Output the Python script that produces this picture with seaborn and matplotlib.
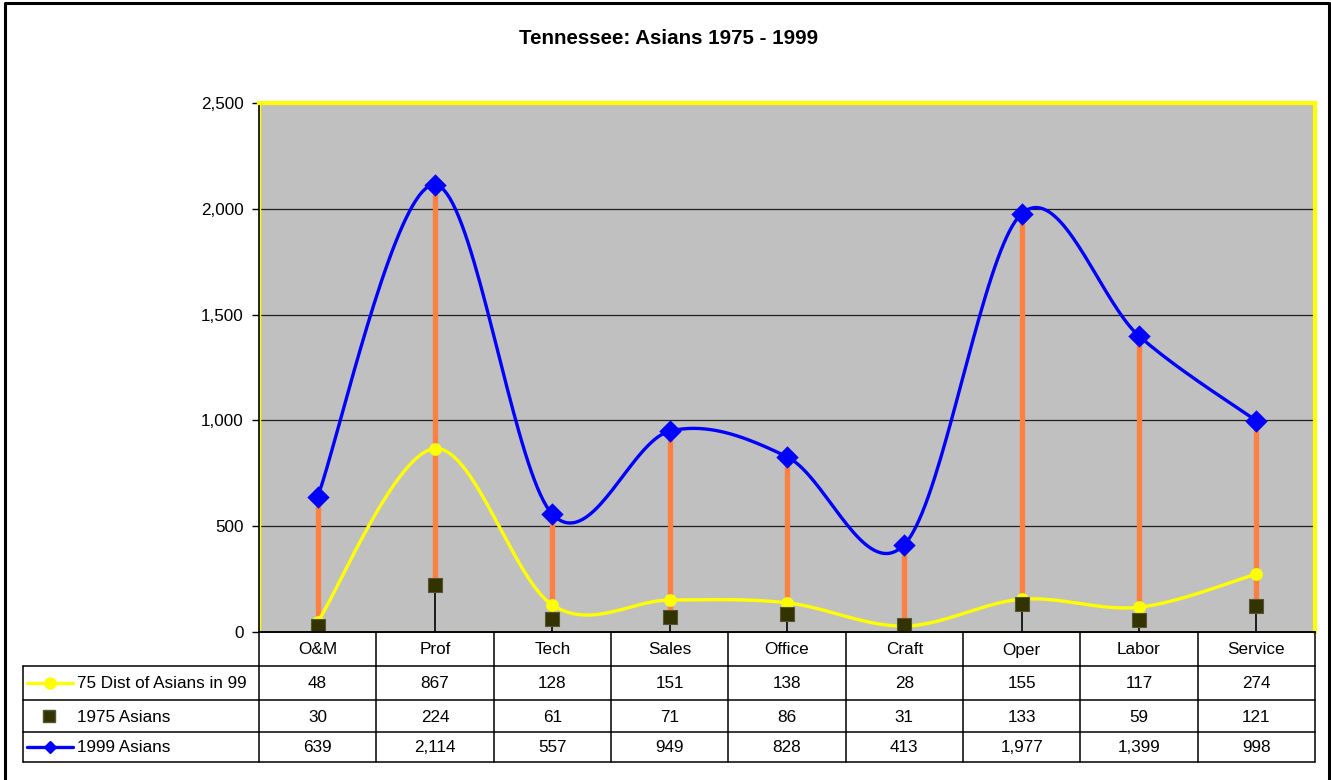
import numpy as np
import pandas as pd
import matplotlib
matplotlib.use("Agg")
import matplotlib.pyplot as plt
import seaborn as sns

# ============= DATA =============
categories = ['O&M', 'Prof', 'Tech', 'Sales', 'Office', 'Craft', 'Oper', 'Labor', 'Service']
dist_75_in_99 = [48, 867, 128, 151, 138, 28, 155, 117, 274]
asians_1975 = [30, 224, 61, 71, 86, 31, 133, 59, 121]
asians_1999 = [639, 2114, 557, 949, 828, 413, 1977, 1399, 998]
series_names = ['75 Dist of Asians in 99', '1975 Asians', '1999 Asians']
y_ticks = [0, 500, 1000, 1500, 2000, 2500]

W, H = 1331, 780
PL, PR, PT, PB = 259, 1315, 103, 632   # plot area in pixels
TL = 23                                  # table left edge
ROWS = [632, 666, 700, 732, 762]         # table row boundaries
FS = 12.3

GRAY = '#C0C0C0'
YELLOW = '#FFFF00'
BLUE = '#0000FF'
ORANGE = '#FF8040'
OLIVE = '#333300'


def excel_smooth(xs, ys, steps=40):
    # bezier smoothing like Excel's "smoothed line" option
    p = np.column_stack([xs, ys]).astype(float)
    p = np.vstack([p[0], p, p[-1]])
    out = []
    for i in range(1, len(p) - 2):
        p0, p1, p2, p3 = p[i - 1], p[i], p[i + 1], p[i + 2]
        c1 = p1 + (p2 - p0) / 6.0
        c2 = p2 - (p3 - p1) / 6.0
        t = np.linspace(0, 1, steps)[:, None]
        seg = ((1 - t) ** 3) * p1 + 3 * ((1 - t) ** 2) * t * c1 + 3 * (1 - t) * t ** 2 * c2 + t ** 3 * p2
        out.append(seg if i == 1 else seg[1:])
    seg = np.vstack(out)
    return seg[:, 0], seg[:, 1]


sns.set_theme(style='white')
plt.rcParams['font.family'] = ['Liberation Sans', 'DejaVu Sans']
plt.rcParams['text.color'] = 'black'
plt.rcParams['ytick.color'] = 'black'
plt.rcParams['ytick.labelcolor'] = 'black'

fig = plt.figure(figsize=(W / 100, H / 100), dpi=100)
fig.patch.set_facecolor('white')

ax = fig.add_axes([PL / W, (H - PB) / H, (PR - PL) / W, (PB - PT) / H])
ax.set_facecolor(GRAY)

xpos = np.arange(len(categories)) + 0.5
df = pd.DataFrame({'x': xpos, 'cat': categories, 'dist': dist_75_in_99,
                   'a75': asians_1975, 'a99': asians_1999})

# drop lines and high-low lines
hi = df[['dist', 'a75', 'a99']].max(axis=1)
lo = df[['dist', 'a75', 'a99']].min(axis=1)
ax.vlines(df['x'], 0, hi, color='black', lw=1.2, zorder=2)
ax.vlines(df['x'], lo, hi, color=ORANGE, lw=3.8, zorder=3)

# 75 distribution (yellow smoothed)
sx, sy = excel_smooth(df['x'], df['dist'])
ax.plot(sx, sy, color=YELLOW, lw=2.4, zorder=4, solid_capstyle='round')
sns.scatterplot(data=df, x='x', y='dist', ax=ax, color=YELLOW, marker='o', s=85,
                edgecolor=YELLOW, linewidth=0, zorder=5, legend=False)

# 1975 markers only
sns.scatterplot(data=df, x='x', y='a75', ax=ax, color=OLIVE, marker='s', s=90,
                edgecolor='#555533', linewidth=0.8, zorder=6, legend=False)

# 1999 (blue smoothed)
sx, sy = excel_smooth(df['x'], df['a99'])
ax.plot(sx, sy, color=BLUE, lw=2.4, zorder=7, solid_capstyle='round')
sns.scatterplot(data=df, x='x', y='a99', ax=ax, color=BLUE, marker='D', s=130,
                edgecolor=BLUE, linewidth=0, zorder=8, legend=False)

ax.set_xlim(0, len(categories))
ax.set_ylim(0, 2500)
ax.set_yticks(y_ticks)
ax.set_yticklabels([f'{v:,}' for v in y_ticks], fontsize=FS, color='black')
ax.set_xticks([])
ax.set_xlabel('')
ax.set_ylabel('')
for v in y_ticks[1:-1]:
    ax.axhline(v, color='#202020', lw=0.9, zorder=1)
ax.tick_params(axis='y', direction='out', length=5, width=1, color='black', pad=6, left=True)
for side in ['top', 'right']:
    ax.spines[side].set_color(YELLOW)
    ax.spines[side].set_linewidth(3)
for side in ['left', 'bottom']:
    ax.spines[side].set_color('black')
    ax.spines[side].set_linewidth(1.2)
ax.axhline(0, color=YELLOW, lw=2, zorder=1.5)
ax.axvline(0, color=YELLOW, lw=2.5, zorder=1.5)

# ============= OVERLAY (title, table, border) =============
ov = fig.add_axes([0, 0, 1, 1], facecolor='none')
ov.set_xlim(0, W)
ov.set_ylim(H, 0)
ov.axis('off')

ov.text(669, 38, 'Tennessee: Asians 1975 - 1999', ha='center', va='center',
        fontsize=14.8, fontweight='bold', color='black')

# outer border
ov.plot([5, 5, 1329, 1329], [781, 3, 3, 781], color='black', lw=2.2)

colw = (PR - PL) / len(categories)
# header verticals
for k in range(len(categories) + 1):
    ov.plot([PL + k * colw] * 2, [PB, ROWS[-1]], color='black', lw=1.1)
ov.plot([TL, TL], [ROWS[1], ROWS[-1]], color='black', lw=1.1)
ov.plot([PL, PR], [ROWS[0], ROWS[0]], color='black', lw=1.1)
for r in ROWS[1:]:
    ov.plot([TL, PR], [r, r], color='black', lw=1.1)

for k, c in enumerate(categories):
    ov.text(PL + (k + 0.5) * colw, (ROWS[0] + ROWS[1]) / 2 + 1, c, ha='center', va='center',
            fontsize=FS, color='black')

rows = [dist_75_in_99, asians_1975, asians_1999]
for r, vals in enumerate(rows):
    yc = (ROWS[r + 1] + ROWS[r + 2]) / 2 + 1
    for k, v in enumerate(vals):
        ov.text(PL + (k + 0.5) * colw, yc, f'{v:,}', ha='center', va='center', fontsize=FS, color='black')
    ov.text(77, yc, series_names[r], ha='left', va='center', fontsize=FS, color='black')

# legend keys
y1 = (ROWS[1] + ROWS[2]) / 2
ov.plot([27, 73], [y1, y1], color=YELLOW, lw=2.4)
ov.plot([50], [y1], marker='o', color=YELLOW, ms=8)
y2 = (ROWS[2] + ROWS[3]) / 2
ov.plot([49], [y2], marker='s', color=OLIVE, ms=8, mec='#555533')
y3 = (ROWS[3] + ROWS[4]) / 2
ov.plot([27, 73], [y3, y3], color=BLUE, lw=2.4)
ov.plot([50], [y3], marker='D', color=BLUE, ms=6)

fig.savefig('out.png', dpi=100, facecolor='white')
